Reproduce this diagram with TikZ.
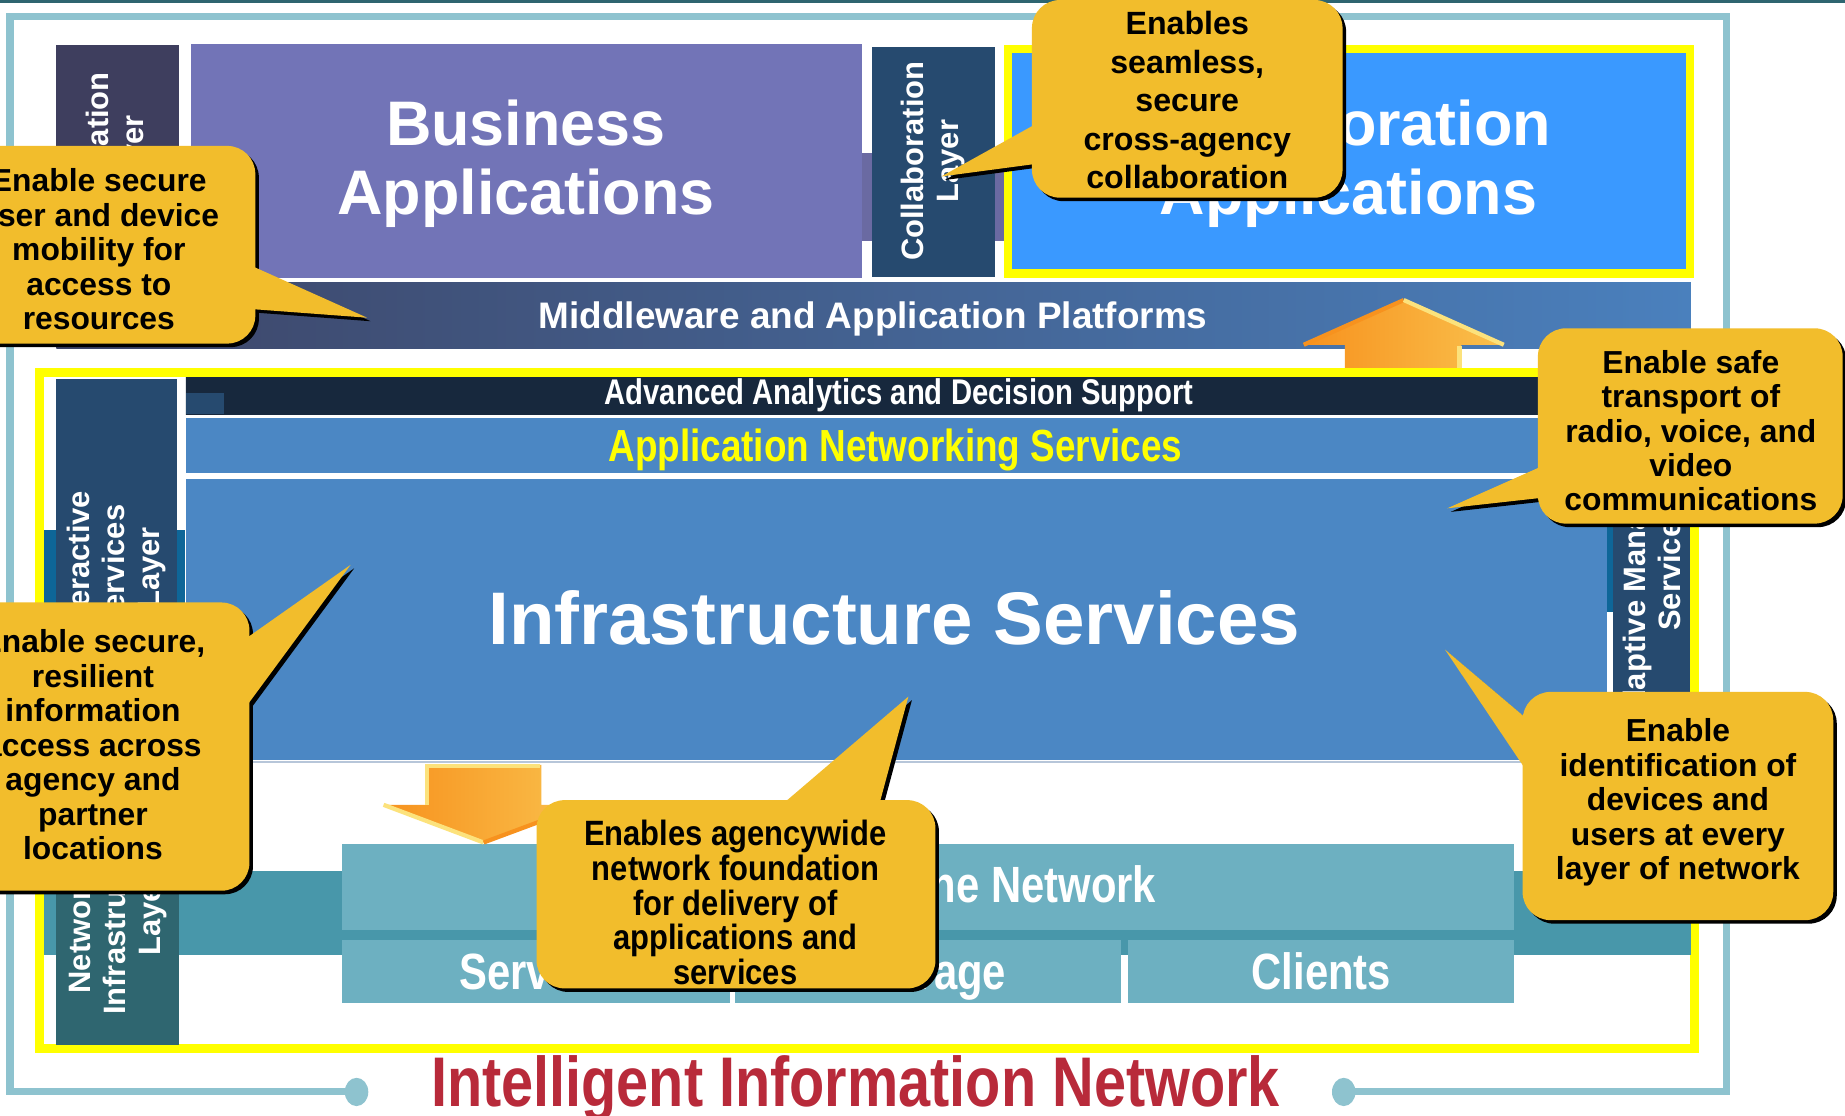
\documentclass[tikz,border=0pt]{standalone}
\usepackage{fontspec}
\setmainfont{Liberation Sans}
\newfontfamily\narrowfont{Liberation Sans}[FakeStretch=0.82]
\newfontfamily\semifont{Liberation Sans}[FakeStretch=0.88]
\usetikzlibrary{calc}

\definecolor{frameblue}{HTML}{8EC3CF}
\definecolor{topteal}{HTML}{2E6570}
\definecolor{applayer}{HTML}{3E3E5E}
\definecolor{busipurple}{HTML}{7274B7}
\definecolor{bandpurple}{HTML}{6A6AA2}
\definecolor{navycol}{HTML}{264A6F}
\definecolor{collabblue}{HTML}{3A99FF}
\definecolor{frameyellow}{HTML}{FFFF00}
\definecolor{mwleft}{HTML}{3D4466}
\definecolor{mwright}{HTML}{4A80BD}
\definecolor{darknavy}{HTML}{17283D}
\definecolor{infrablue}{HTML}{4B87C4}
\definecolor{infragray}{HTML}{B7C6D9}
\definecolor{stripblue}{HTML}{0E6698}
\definecolor{bandteal}{HTML}{4897AA}
\definecolor{netteal}{HTML}{6DB0C1}
\definecolor{netcol}{HTML}{2F6670}
\definecolor{calloutyellow}{HTML}{F2BD2C}
\definecolor{titlered}{HTML}{B82A3A}
\definecolor{arrdark}{HTML}{F7921E}
\definecolor{arrlight}{HTML}{FAC04C}
\definecolor{arrhigh}{HTML}{FCE27C}

\begin{document}
\begin{tikzpicture}[x=0.011767cm, y=-0.011767cm,
    bigtext/.style={text=white, align=center, font=\bfseries\fontsize{17.9}{19.8}\selectfont},
    layertext/.style={rotate=90, text=white, align=center, font=\bfseries\fontsize{8.8}{10}\selectfont},
    bartext/.style={text=white, font=\bfseries\fontsize{10.5}{12}\selectfont},
    nettext/.style={text=white, anchor=base, font=\narrowfont\bfseries\fontsize{14.5}{16}\selectfont},
    calltext/.style={align=center, font=\bfseries\fontsize{9.05}{9.8}\selectfont},
    yframe/.style={draw=frameyellow, line width=2.35pt},
    outline/.style={draw=frameblue, line width=2pt}]
    \useasboundingbox (0,0) rectangle (1568,948);
    \fill[white] (0,0) rectangle (1568,948);
    \fill[topteal] (0,0) rectangle (1568,2.5);

    \coordinate (dotl) at (303,928);
    \coordinate (dotr) at (1142,928);
    \draw[outline] (dotl) -- (8.5,928) -- (8.5,14) -- (1467,14) -- (1467,928) -- (dotr);
    \fill[frameblue] (dotl) ellipse (10 and 12);
    \fill[frameblue] (dotr) ellipse (10 and 12);

    \fill[applayer] (48,38) rectangle (152,240);
    \node[layertext] (applabel) at (100,133) {Application\\Layer};
    \fill[busipurple] (162,37) rectangle (733,236);
    \node[bigtext] (business) at (447,139) {Business\\Applications};
    \fill[bandpurple] (733,130) rectangle (853,205);
    \fill[navycol] (741,40) rectangle (846,235);
    \node[layertext] (collablabel) at (793,137) {Collaboration\\Layer};
    \draw[yframe, fill=collabblue] (856.5,41.5) rectangle (1436.5,232.5);
    \node[bigtext] (collabapps) at (1146,139) {Collaboration\\Applications};

    \shade[left color=mwleft, right color=mwright] (48,240) rectangle (1437,296);
    \node[bartext] (middleware) at (742,271) {Middleware and Application Platforms};

    \shade[left color=arrdark, right color=arrlight] (1193,255) -- (1278,293) -- (1242,293) -- (1242,314) -- (1143,314) -- (1143,293) -- (1108,293) -- cycle;
    \draw[arrdark, line width=1.2pt] (1108,293) -- (1193,255);
    \draw[arrhigh, line width=1.2pt] (1193,255) -- (1278,293);
    \draw[arrhigh, line width=1.4pt] (1240,294) -- (1240,314);

    \draw[yframe] (33.5,316.5) rectangle (1440,891);

    \fill[stripblue] (37,450) rectangle (157,640);
    \fill[navycol] (48,322) rectangle (150,644);
    \node[layertext] (interlabel) at (99,483) {Interactive\\Services\\Layer};
    \fill[stripblue] (1362,445) rectangle (1436,520);
    \fill[navycol] (1371,322) rectangle (1436,644);
    \node[layertext] (adaptlabel) at (1404,482) {Adaptive Management\\Services};

    \shade[top color=darknavy, middle color=navycol, bottom color=darknavy] (158,321) rectangle (1366,352);
    \fill[navycol] (158,334) rectangle (190,352);
    \node[text=white, font=\narrowfont\bfseries\fontsize{10.15}{12}\selectfont] (analytics) at (764,336) {Advanced Analytics and Decision Support};
    \fill[infrablue] (158,355) rectangle (1366,402);
    \node[text=frameyellow, font=\narrowfont\bfseries\fontsize{12.8}{14}\selectfont] (appnet) at (761,382) {Application Networking Services};
    \fill[infrablue] (158,407) rectangle (1366,646);
    \draw[infragray, line width=0.6pt] (158,647.5) -- (1366,647.5);
    \node[text=white, font=\bfseries\fontsize{21.2}{24}\selectfont] (infra) at (760,525) {Infrastructure Services};

    \fill[bandteal] (37,740) rectangle (1437,812);
    \fill[netcol] (48,665) rectangle (152,888);
    \node[layertext] (netlabel) at (100,777) {Networked\\Infrastructure\\Layer};
    \fill[netteal] (291,717) rectangle (1287,790);
    \node[nettext] (network) at (876,767) {The Network};
    \foreach \xa/\xb/\lbl/\nm in {291/620/Servers/servers, 625/953/Storage/storage, 959/1287/Clients/clients} {
        \fill[netteal] (\xa,799) rectangle (\xb,852);
        \node[nettext] (\nm) at ({(\xa+\xb)/2},841) {\lbl};
    }

    \shade[left color=arrdark, right color=arrlight] (362,650) -- (460,650) -- (460,684) -- (497,684) -- (411,716) -- (326,684) -- (362,684) -- cycle;
    \draw[arrhigh, line width=1.2pt] (363,684) -- (363,651) -- (459,651);
    \draw[arrhigh, line width=1.2pt] (326,684) -- (411,716);
    \draw[arrdark, line width=1.2pt] (411,716) -- (497,684);

    \node[text=titlered, anchor=base, font=\narrowfont\bfseries\fontsize{20}{22}\selectfont] (title) at (727,940) {Intelligent Information Network};

    \foreach \off/\col in {3/black,0/calloutyellow} {
        \fill[\col, shift={(\off,\off)}, rounded corners=8pt] (-49,124) rectangle (217,292);
        \fill[\col, shift={(\off,\off)}] (205,222) -- (312,270) -- (205,262) -- cycle;
        \fill[\col, shift={(\off,\off)}, rounded corners=8pt] (877,0) rectangle (1141,168);
        \fill[\col, shift={(\off,\off)}] (890,100) -- (800,150) -- (890,138) -- cycle;
        \fill[\col, shift={(\off,\off)}, rounded corners=8pt] (1307,279) rectangle (1566,445);
        \fill[\col, shift={(\off,\off)}] (1320,392) -- (1230,432) -- (1320,422) -- cycle;
        \fill[\col, shift={(\off,\off)}, rounded corners=8pt] (-54,512) rectangle (212,757);
        \fill[\col, shift={(\off,\off)}] (200,549) -- (298,480) -- (200,613) -- cycle;
        \fill[\col, shift={(\off,\off)}, rounded corners=8pt] (456,680) rectangle (795,840);
        \fill[\col, shift={(\off,\off)}] (655,692) -- (772,592) -- (745,692) -- cycle;
        \fill[\col, shift={(\off,\off)}, rounded corners=8pt] (1294,588) rectangle (1558,782);
        \fill[\col, shift={(\off,\off)}] (1306,618) -- (1228,552) -- (1306,668) -- cycle;
    }
    \node[calltext] (mobility) at (84,212) {Enable secure\\user and device\\mobility for\\access to\\resources};
    \node[calltext, font=\bfseries\fontsize{9.15}{10.95}\selectfont] (seamless) at (1009,85) {Enables\\seamless,\\secure\\cross-agency\\collaboration};
    \node[calltext] (transport) at (1437,366) {Enable safe\\transport of\\radio, voice, and\\video\\communications};
    \node[calltext] (resilient) at (79,633) {Enable secure,\\resilient\\information\\access across\\agency and\\partner\\locations};
    \node[calltext, font=\semifont\bfseries\fontsize{10}{9.9}\selectfont] (agencywide) at (625,767) {Enables agencywide\\network foundation\\for delivery of\\applications and\\services};
    \node[calltext] (identify) at (1426,682) {Enable\\identification of\\devices and\\users at every\\layer of network};
\end{tikzpicture}
\end{document}
